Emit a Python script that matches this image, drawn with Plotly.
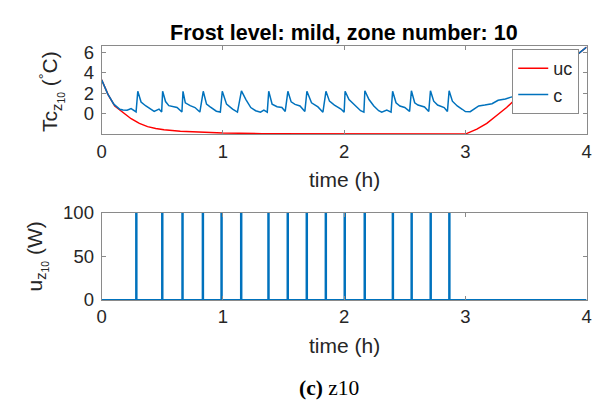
import plotly.graph_objects as go

# ---- data ----
t_uc = [0, 0.054, 0.108, 0.176, 0.243, 0.311, 0.379, 0.446, 0.514, 0.649, 0.784, 1.0,
        1.325, 1.8, 2.5, 3.0, 3.095, 3.177, 3.258, 3.34, 3.41, 3.5, 3.6, 3.7, 3.8, 3.92, 4.0]
uc = [3.31, 1.86, 0.77, 0.1, -0.47, -0.93, -1.24, -1.43, -1.55, -1.68, -1.77, -1.86,
      -1.93, -1.96, -1.97, -1.97, -1.49, -0.93, -0.16, 0.62, 1.4, 2.3, 3.2, 4.0, 4.8, 5.75, 6.5]

t_c = [0.0, 0.05, 0.10, 0.15, 0.176, 0.21, 0.243, 0.27, 0.284, 0.298, 0.325, 0.365, 0.405,
       0.433, 0.473, 0.495, 0.503, 0.527, 0.554, 0.622, 0.662, 0.671, 0.69, 0.73, 0.77,
       0.81, 0.838, 0.865, 0.892, 0.946, 0.979, 0.995, 1.03, 1.08, 1.12, 1.153, 1.19, 1.23,
       1.27, 1.31, 1.338, 1.366, 1.378, 1.406, 1.447, 1.487, 1.514, 1.536, 1.563, 1.595,
       1.636, 1.676, 1.693, 1.731, 1.784, 1.825, 1.85, 1.879, 1.92, 1.974, 2.0, 2.008,
       2.04, 2.096, 2.136, 2.163, 2.171, 2.205, 2.245, 2.285, 2.31, 2.352, 2.387, 2.4,
       2.428, 2.46, 2.5, 2.54, 2.555, 2.582, 2.609, 2.663, 2.698, 2.712, 2.739, 2.771,
       2.825, 2.852, 2.866, 2.893, 2.933, 2.974, 3.0, 3.04, 3.07, 3.11, 3.16, 3.22, 3.27,
       3.33, 3.37, 3.43, 3.5, 3.6, 3.7, 3.8, 3.92, 4.0]
c = [3.31, 1.95, 0.95, 0.45, 0.37, 0.35, 0.52, 0.35, 0.2, 2.2, 1.15, 0.77, 0.47,
     0.24, 0.47, 0.18, 2.2, 1.2, 0.8, 0.62, 0.18, 2.2, 1.08, 0.8, 0.62,
     0.18, 2.2, 0.95, 0.7, 0.26, 0.18, 2.2, 0.95, 0.47, 0.18, 2.25, 1.4, 0.62,
     0.31, 0.17, 0.37, 0.17, 2.2, 0.95, 0.7, 0.62, 0.24, 2.2, 1.17, 0.93,
     0.77, 0.24, 2.2, 1.08, 0.68, 0.17, 2.2, 1.24, 0.86, 0.47, 0.17, 2.2,
     1.4, 0.77, 0.31, 0.17, 2.25, 1.4, 0.77, 0.31, 0.17, 0.37, 0.17, 2.2,
     1.08, 0.77, 0.62, 0.24, 2.25, 1.08, 0.86, 0.68, 0.24, 2.25, 1.24, 0.86,
     0.62, 0.24, 2.25, 1.24, 0.77, 0.45, 0.22, 0.21, 0.47, 0.77, 0.86, 0.99, 1.33,
     1.45, 1.61, 1.8, 2.3, 3.2, 4.0, 4.8, 5.75, 6.5]

pulse_times = [0.284, 0.498, 0.665, 0.833, 0.987, 1.149, 1.374, 1.533,
               1.690, 1.847, 2.003, 2.168, 2.400, 2.555, 2.712, 2.866]
pulse_power = 100
pulse_width = 0.004

x_ticks = [0, 1, 2, 3, 4]
y1_ticks = [0, 2, 4, 6]
y2_ticks = [0, 50, 100]

# build the control signal as steps
t_u = [0.0]
u = [0.0]
for tp in pulse_times:
    t_u += [tp, tp, tp + pulse_width, tp + pulse_width]
    u += [0, pulse_power, pulse_power, 0]
t_u.append(4.0)
u.append(0.0)

# ---- figure ----
W, H = 598, 415
FONT = "Liberation Sans, Arial, Helvetica, sans-serif"
TXT = "#262626"
AX = "#8a8a8a"
BLUE = "#0072BD"
RED = "#FF0000"

def px(x):
    return x / W

def py(y):
    return 1 - y / H

fig = go.Figure()
fig.add_trace(go.Scatter(x=t_uc, y=uc, mode="lines", name="uc",
                         line=dict(color=RED, width=1.5), xaxis="x", yaxis="y"))
fig.add_trace(go.Scatter(x=t_c, y=c, mode="lines", name="c",
                         line=dict(color=BLUE, width=1.5), xaxis="x", yaxis="y"))
fig.add_trace(go.Scatter(x=t_u, y=u, mode="lines", name="u", showlegend=False,
                         line=dict(color=BLUE, width=2), xaxis="x2", yaxis="y2"))

xl, xr = 98.3, 591.5
axis_x = dict(showgrid=False, zeroline=False, showline=True, linecolor=AX,
              linewidth=1, mirror="ticks", ticks="inside", ticklen=4,
              tickcolor=AX, tickfont=dict(family=FONT, size=18.5, color=TXT))
axis_y = dict(axis_x, ticklabelstandoff=3)

fig.update_layout(
    width=W, height=H,
    margin=dict(l=0, r=0, t=0, b=0),
    paper_bgcolor="white", plot_bgcolor="white",
    xaxis=dict(domain=[px(xl), px(xr)], range=[0, 4], tickvals=x_ticks,
               anchor="y", **axis_x),
    yaxis=dict(domain=[py(130), py(37)], range=[-2.0, 6.6], tickvals=y1_ticks,
               anchor="x", **axis_y),
    xaxis2=dict(domain=[px(xl), px(xr)], range=[0, 4], tickvals=x_ticks,
                anchor="y2", **axis_x),
    yaxis2=dict(domain=[py(304.3), py(212.3)], range=[0, 100], tickvals=y2_ticks,
                anchor="x2", **axis_y),
    legend=dict(x=px(584), y=py(40), xanchor="right", yanchor="top",
                bgcolor="white", bordercolor=AX, borderwidth=1,
                font=dict(family=FONT, size=18, color=TXT),
                itemwidth=30, tracegroupgap=0),
    showlegend=True,
)

ann = [
    dict(text="<b>Frost level: mild, zone number: 10</b>", x=px(345), y=py(23),
         font=dict(family=FONT, size=21.5, color="black")),
    dict(text="time (h)", x=px(345), y=py(177), font=dict(family=FONT, size=21, color=TXT)),
    dict(text="time (h)", x=px(345), y=py(352), font=dict(family=FONT, size=21, color=TXT)),
    dict(text="Tc<sub>z<sub>10</sub></sub> (<sup>°</sup>C)", x=px(47), y=py(85), textangle=-90,
         font=dict(family=FONT, size=21, color=TXT)),
    dict(text="u<sub>z<sub>10</sub></sub> (W)", x=px(32), y=py(258), textangle=-90,
         font=dict(family=FONT, size=21, color=TXT)),
    dict(text="<b>(c)</b> z10", x=px(329.5), y=py(397),
         font=dict(family="Liberation Serif, Times New Roman, serif", size=21.5, color="black")),
]
for a in ann:
    a.update(xref="paper", yref="paper", showarrow=False, xanchor="center", yanchor="middle")
fig.update_layout(annotations=ann)

fig.write_html("out.html")
